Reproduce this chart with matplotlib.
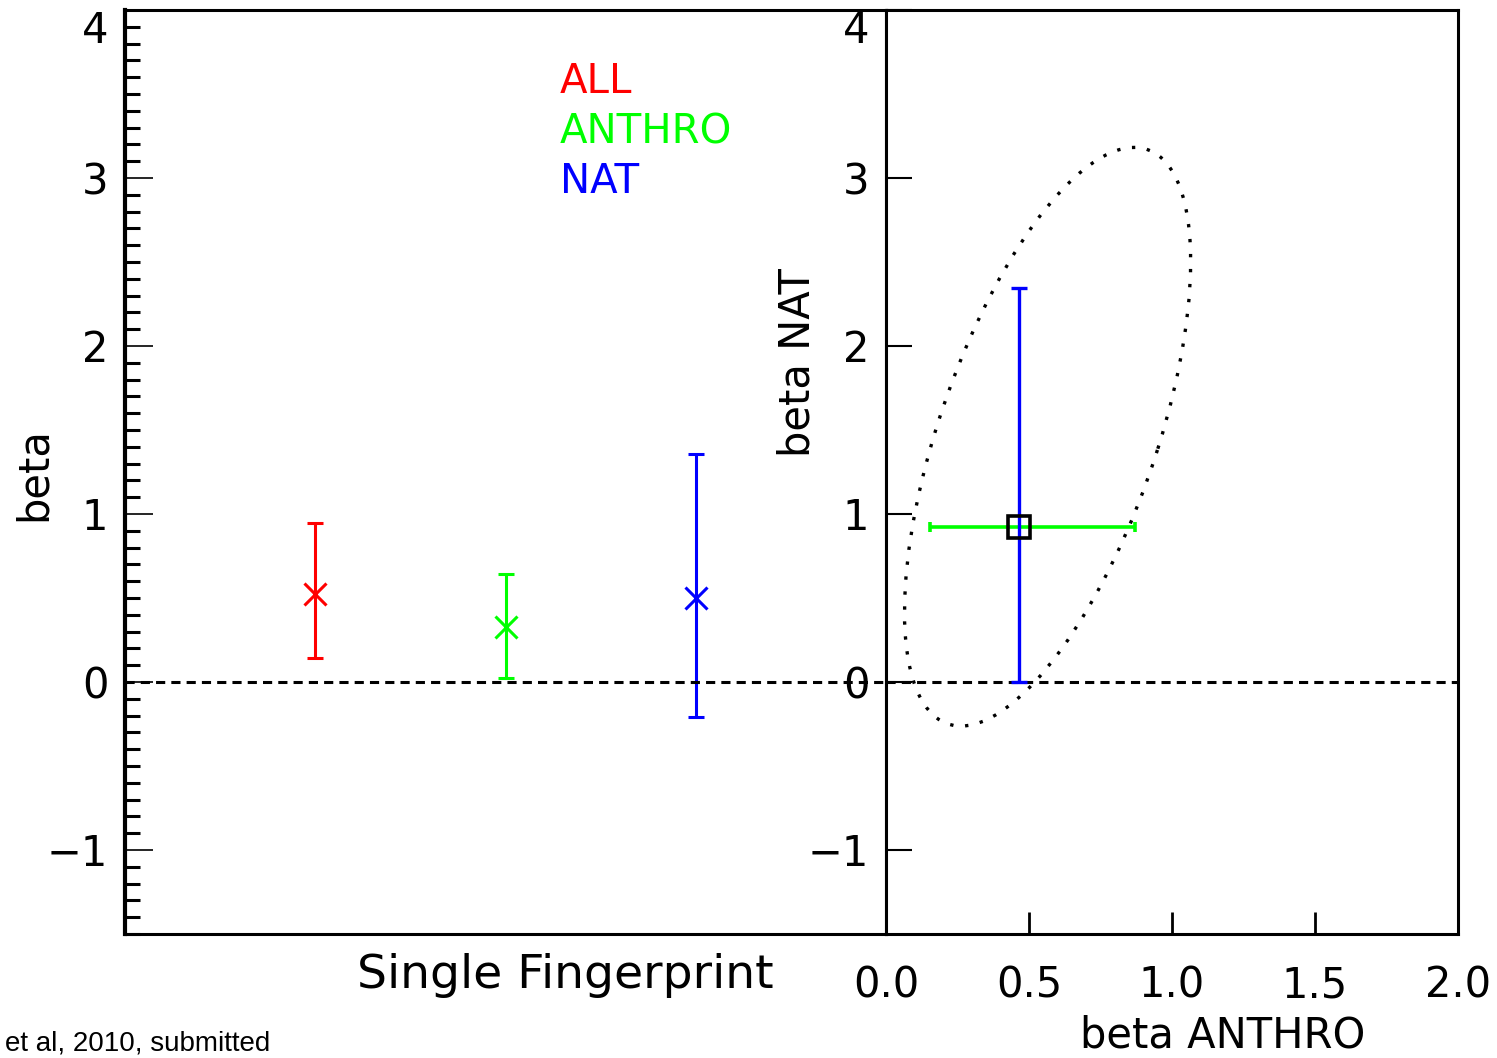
"""
Detection and attribution scaling factors: single and two fingerprint fits
"""

import matplotlib
matplotlib.use('Agg')
import matplotlib.pyplot as plt
from matplotlib.patches import Ellipse
from matplotlib.ticker import MultipleLocator
import numpy as np

# Single fingerprint fits: best estimate and 5-95% range
experiments = ['ALL', 'ANTHRO', 'NAT']
beta_best = [0.524, 0.327, 0.500]
beta_low = [0.143, 0.024, -0.208]
beta_high = [0.946, 0.643, 1.357]
exp_colors = ['#ff0000', '#00ff00', '#0000ff']

# Two fingerprint fit (ANTHRO + NAT)
anthro_best = 0.464
anthro_range = [0.154, 0.872]
nat_best = 0.925
nat_range = [0.0, 2.345]

# Joint confidence region: centre, full axis lengths, tilt (degrees)
ellipse_center = (0.565, 1.46)
ellipse_width = 3.50
ellipse_height = 0.784
ellipse_angle = 79.5

y_ticks = [-1, 0, 1, 2, 3, 4]
y_tick_labels = ['\u22121', '0', '1', '2', '3', '4']
anthro_ticks = [0.0, 0.5, 1.0, 1.5, 2.0]
anthro_tick_labels = ['0.0', '0.5', '1.0', '1.5', '2.0']

W, H = 1497, 1058
fig = plt.figure(figsize=(W / 100, H / 100), dpi=100)
plt.rcParams['font.family'] = ['DejaVu Sans']

left, right, mid = 125, 1458, 886
top, bottom = 10, 934
ax1 = fig.add_axes([left / W, 1 - bottom / H, (mid - left) / W, (bottom - top) / H])
ax2 = fig.add_axes([mid / W, 1 - bottom / H, (right - mid) / W, (bottom - top) / H])

# --- left panel: single fingerprint ---
xpos = np.arange(1, len(experiments) + 1)
for x, b, lo, hi, c in zip(xpos, beta_best, beta_low, beta_high, exp_colors):
    ax1.errorbar(x, b, yerr=[[b - lo], [hi - b]], fmt='x', color=c,
                 ms=16, mew=2.2, elinewidth=2.2, capsize=6, capthick=2.2)

ax1.axhline(0, color='black', lw=2.2, dashes=(3, 2))
ax1.set_xlim(0, 4)
ax1.set_ylim(-1.5, 4)
ax1.set_xticks([])
ax1.set_yticks(y_ticks, y_tick_labels)
ax1.yaxis.set_minor_locator(MultipleLocator(0.1))
ax1.tick_params(axis='y', which='major', direction='in', length=20, width=1.2,
                labelsize=30, pad=12)
ax1.tick_params(axis='y', which='minor', direction='in', length=11, width=2.2)
for side in ['top', 'bottom', 'right']:
    ax1.spines[side].set_linewidth(2.2)
ax1.spines['left'].set_linewidth(3)

# legend as coloured words
for i, (name, c) in enumerate(zip(experiments, exp_colors)):
    fig.text(560 / W, 1 - (82 + 50 * i) / H, name, color=c, fontsize=29,
             ha='left', va='center')

# --- right panel: two fingerprints ---
ell = Ellipse(ellipse_center, ellipse_width, ellipse_height, angle=ellipse_angle,
              fill=False, edgecolor='black', lw=2.4, linestyle=(0, (1, 3.5)))
ax2.add_patch(ell)

ax2.axhline(0, color='black', lw=2.2, dashes=(3, 2))
ax2.errorbar(anthro_best, nat_best,
             xerr=[[anthro_best - anthro_range[0]], [anthro_range[1] - anthro_best]],
             fmt='none', ecolor='#00ff00', elinewidth=2.6, capsize=3.5, capthick=2.6)
ax2.errorbar(anthro_best, nat_best,
             yerr=[[nat_best - nat_range[0]], [nat_range[1] - nat_best]],
             fmt='none', ecolor='#0000ff', elinewidth=2.4, capsize=6, capthick=2.4)
ax2.plot(anthro_best, nat_best, marker='s', ms=16, mfc='none', mec='black', mew=2.6)

ax2.set_xlim(0, 2)
ax2.set_ylim(-1.5, 4)
ax2.set_xticks(anthro_ticks, anthro_tick_labels)
ax2.set_yticks(y_ticks, y_tick_labels)
ax2.tick_params(axis='x', direction='in', length=16, width=2, labelsize=30, pad=22)
ax2.tick_params(axis='y', direction='in', length=19, width=1.5, labelsize=30, pad=12)
for side in ax2.spines:
    ax2.spines[side].set_linewidth(2.2)

# top tick labels sit below the frame corner
for ax in (ax1, ax2):
    ax.get_yticklabels()[-1].set_va('top')

# --- axis titles ---
fig.text(34 / W, 1 - 474 / H, 'beta', rotation=90, fontsize=30, ha='center', va='center')
fig.text(797 / W, 1 - 363 / H, 'beta NAT', rotation=90, fontsize=30, ha='center', va='center')
fig.text(565 / W, 1 - 975 / H, 'Single Fingerprint', fontsize=34, ha='center', va='center')
fig.text(1223 / W, 1 - 1057 / H, 'beta ANTHRO', fontsize=30, ha='center', va='bottom')
fig.text(5 / W, 1 - 1050 / H, 'et al, 2010, submitted', fontsize=20,
         family=['Liberation Sans', 'DejaVu Sans'], ha='left', va='baseline')

fig.savefig('out.png', dpi=100)
